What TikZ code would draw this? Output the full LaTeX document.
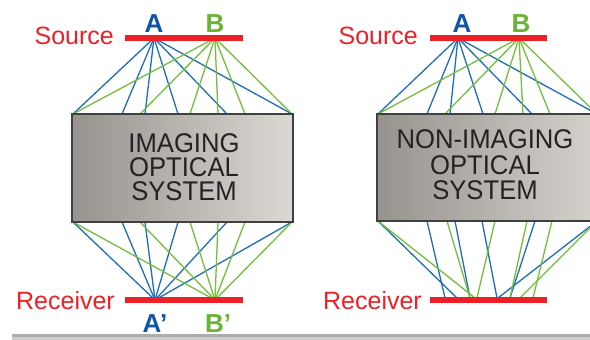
\documentclass[tikz,border=0pt]{standalone}
\usepackage{fontspec}
\setmainfont{Liberation Sans}
\usepackage{graphicx}
\definecolor{rred}{RGB}{236,32,38}
\definecolor{rblue}{RGB}{30,110,185}
\definecolor{rgreen}{RGB}{115,190,60}
\definecolor{lblue}{RGB}{15,85,165}
\definecolor{lgreen}{RGB}{105,180,50}
\definecolor{boxdark}{RGB}{150,147,143}
\definecolor{boxlight}{RGB}{220,217,212}
\definecolor{boxtext}{RGB}{35,35,35}
\begin{document}
\begin{tikzpicture}[x=1pt,y=-1pt,
  ray/.style={line width=1.3pt},
  bluer/.style={ray,draw=rblue},
  greenr/.style={ray,draw=rgreen},
  redbar/.style={line width=6pt,draw=rred},
  lbl/.style={font=\fontsize{25}{25}\selectfont,text=rred,inner sep=0pt},
  ptlabel/.style={font=\bfseries\fontsize{26}{26}\selectfont,inner sep=0pt,anchor=base},
  sysbox/.style={draw=black!75,line width=1.2pt,left color=boxdark,right color=boxlight},
  systext/.style={font=\fontsize{27}{24}\selectfont,text=boxtext,inner sep=0pt,anchor=base}]
\useasboundingbox (0,0) rectangle (590,340);
\clip (0,0) rectangle (590,340);
\fill[white] (0,0) rectangle (590,340);

% ---------- left panel: imaging ----------
\coordinate (A1) at (154,38);
\coordinate (B1) at (215,38);
\coordinate (A1r) at (155,300);
\coordinate (B1r) at (215,300);
\foreach \x in {73,122,145,178,227,292}{
  \coordinate (lt\x) at (\x,114);
  \coordinate (lb\x) at (\x,222);
  \draw[bluer] (A1) -- (lt\x);
  \draw[bluer] (A1r) -- (lb\x);
}
\foreach \x in {73,140,190,218,245,292}{
  \coordinate (lgt\x) at (\x,114);
  \coordinate (lgb\x) at (\x,222);
  \draw[greenr] (B1) -- (lgt\x);
  \draw[greenr] (B1r) -- (lgb\x);
}
\path[sysbox] (72,114) rectangle (293,222);
\node[systext] (l1) at (184,152) {\scalebox{0.95}[1]{IMAGING}};
\node[systext] (l2) at (184,176) {\scalebox{0.95}[1]{OPTICAL}};
\node[systext] (l3) at (184,200) {\scalebox{0.95}[1]{SYSTEM}};

\coordinate (s1a) at (125,38); \coordinate (s1b) at (243,38);
\coordinate (r1a) at (125,300); \coordinate (r1b) at (243,300);
\draw[redbar] (s1a) -- (s1b);
\draw[redbar] (r1a) -- (r1b);
\node[lbl,anchor=base east] (src1) at (114,45) {Source};
\node[lbl,anchor=base east] (rec1) at (115,309) {Receiver};
\node[ptlabel,text=lblue] (la1) at (154,32) {A};
\node[ptlabel,text=lgreen] (lb1) at (215,32) {B};
\node[ptlabel,text=lblue] (la1r) at (155,332) {A’};
\node[ptlabel,text=lgreen] (lb1r) at (218,332) {B’};

% ---------- right panel: non-imaging ----------
\coordinate (A2) at (458,38);
\coordinate (B2) at (519,38);
\foreach \x in {378,427,450,483,532,597}{
  \coordinate (rt\x) at (\x,114);
  \draw[bluer] (A2) -- (rt\x);
}
\foreach \x in {378,445,495,523,550,597}{
  \coordinate (rgt\x) at (\x,114);
  \draw[greenr] (B2) -- (rgt\x);
}
\foreach \u/\v in {378/457,427/445,455/470,482/497,535/510,597/498}{
  \coordinate (rbu\u) at (\u,221);
  \coordinate (rbv\u) at (\v,298);
  \draw[bluer] (rbu\u) -- (rbv\u);
}
\foreach \u/\v in {378/475,447/470,495/477,527/510,552/533,597/520}{
  \coordinate (rgu\u) at (\u,221);
  \coordinate (rgv\u) at (\v,298);
  \draw[greenr] (rgu\u) -- (rgv\u);
}
\path[sysbox] (377,114) rectangle (620,221);
\node[systext] (n1) at (485,148) {\scalebox{0.95}[1]{NON-IMAGING}};
\node[systext] (n2) at (485,174) {\scalebox{0.95}[1]{OPTICAL}};
\node[systext] (n3) at (485,199) {\scalebox{0.95}[1]{SYSTEM}};

\coordinate (s2a) at (430,38); \coordinate (s2b) at (547,38);
\coordinate (r2a) at (430,300); \coordinate (r2b) at (547,300);
\draw[redbar] (s2a) -- (s2b);
\draw[redbar] (r2a) -- (r2b);
\node[lbl,anchor=base east] (src2) at (418,45) {Source};
\node[lbl,anchor=base east] (rec2) at (422,309) {Receiver};
\node[ptlabel,text=lblue] (la2) at (462,32) {A};
\node[ptlabel,text=lgreen] (lb2) at (521,32) {B};

% ---------- bottom shadow bar ----------
\fill[gray!65] (12,334) rectangle (590,337);
\fill[gray!40] (12,337) rectangle (590,340);
\end{tikzpicture}
\end{document}
